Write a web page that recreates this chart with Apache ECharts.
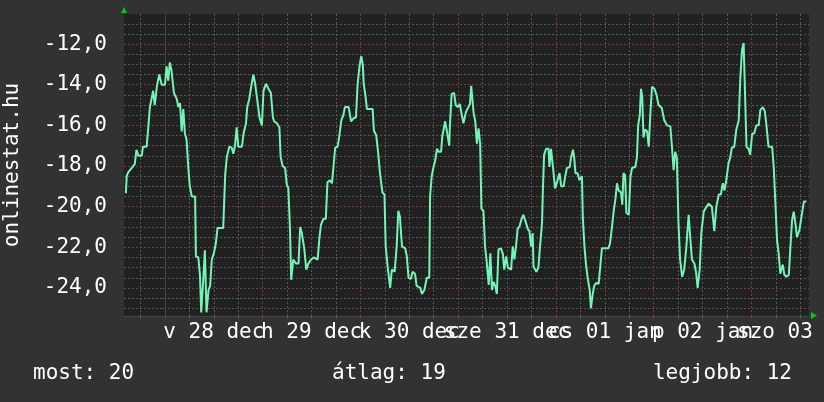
<!DOCTYPE html>
<html>
<head>
<meta charset="utf-8">
<script src="https://cdn.jsdelivr.net/npm/echarts@6/dist/echarts.min.js"></script>
<style>
html,body{margin:0;padding:0;background:#323232;}
#chart{width:824px;height:402px;}
</style>
</head>
<body>
<div id="chart"></div>
<script>
// hours relative to 28 Dec 00:00
const hours = [-9.6,-9.4,-9.0,-7.8,-7.4,-7.0,-6.5,-5.7,-5.4,-4.5,-4.1,-3.7,-2.9,-2.5,-2.0,-1.4,-0.8,0.0,0.4,0.8,1.2,1.6,2.2,2.9,3.3,3.7,4.1,4.5,4.9,5.3,5.7,6.1,6.6,7.4,7.6,8.2,8.6,8.9,9.4,9.8,10.2,10.7,11.1,11.5,12.0,12.5,12.9,14.3,14.8,15.2,15.8,16.4,16.8,17.2,17.6,18.0,18.9,19.3,19.9,20.2,20.7,21.3,21.7,22.1,22.7,23.2,23.8,24.2,24.8,25.4,26.0,26.5,26.8,27.5,28.1,28.4,28.9,29.5,29.9,30.3,30.7,31.0,31.5,32.2,32.8,
33.2,33.6,34.2,34.7,35.2,35.9,36.5,37.5,37.9,38.3,38.9,39.5,39.9,40.5,41.0,41.4,41.8,42.4,42.8,43.3,43.8,44.2,45.1,45.7,46.3,46.9,47.3,47.8,48.2,48.6,48.8,49.2,49.6,51.0,51.3,51.9,52.4,52.8,53.4,53.9,54.2,54.7,55.3,55.7,56.4,56.9,57.3,57.7,58.2,59.0,59.4,59.8,60.4,60.8,61.4,61.8,62.7,63.1,63.7,64.3,64.9,65.1,65.5,66.0,66.3,66.8,67.2,67.8,68.1,68.8,69.2,69.8,70.0,70.4,71.0,71.4,71.9,72.4,72.9,73.3,73.9,74.5,74.9,75.2,75.8,76.2,76.6,77.0,77.4,77.7,78.2,78.6,79.0,79.5,79.9,80.3,80.7,81.1,81.5,81.9,82.5,83.0,83.3,83.8,84.2,85.0,85.4,85.8,86.2,86.6,87.1,87.5,88.0,88.5,89.1,89.5,89.9,90.3,90.5,91.2,91.7,92.1,92.6,92.8,93.1,93.6,94.2,94.4,94.8,95.3,95.8,96.4,96.9,97.3,97.9,98.3,98.7,99.4,99.7,100.2,100.5,100.8,101.3,101.8,102.4,102.6,103.0,103.4,103.8,104.3,104.6,105.0,105.4,105.9,106.5,106.9,107.3,108.9,109.3,109.8,110.2,110.6,111.0,111.4,112.0,112.3,112.6,113.0,113.3,113.9,114.3,114.7,115.5,115.9,116.2,116.6,116.9,117.2,117.5,117.9,118.4,118.8,119.2,119.6,120.2,120.7,121.2,122.0,122.6,123.3,124.1,124.5,124.9,125.3,125.7,126.1,126.5,127.0,127.5,128.0,128.6,129.0,129.4,130.0,130.4,130.8,131.3,131.7,132.3,132.7,133.5,134.3,134.9,135.4,136.0,136.5,137.0,137.4,137.8,138.4,138.8,139.2,139.8,140.3,140.9,141.3,141.7,142.1,142.5,142.8,143.3,143.7,144.2,144.7,145.2,145.8,146.2,146.8,147.3,147.7,148.2,149.1,149.5,149.9,150.3,150.7,151.1,151.7,152.1,152.6,153.2,153.6,154.0,154.4,154.8,155.2,155.8,156.3,156.9,157.5];
const temps = [-19.34,-18.5,-18.3,-18.0,-17.9,-17.2,-17.5,-17.5,-17.05,-17.05,-16.1,-15.1,-14.3,-15.0,-14.1,-13.5,-14.0,-14.0,-13.1,-13.8,-12.9,-13.3,-14.4,-14.7,-15.1,-14.9,-16.3,-15.2,-16.4,-16.7,-18.0,-19.0,-19.5,-19.5,-22.45,-22.5,-23.4,-25.2,-23.6,-22.15,-25.2,-24.1,-23.9,-22.6,-22.3,-21.8,-21.05,-21.05,-18.4,-17.55,-17.05,-17.1,-17.4,-17.0,-16.1,-17.05,-17.05,-16.4,-15.9,-15.1,-14.7,-13.95,-13.5,-13.9,-14.8,-15.6,-16.0,-14.3,-13.95,-14.2,-14.4,-15.6,-15.8,-15.9,-16.1,-17.55,-18.0,-18.1,-18.9,-19.1,-21.1,-23.6,-22.6,-22.8,-22.8,
-21.0,-21.3,-22.05,-23.1,-22.8,-22.6,-22.5,-22.6,-21.6,-20.9,-20.6,-20.6,-18.8,-18.7,-18.85,-18.0,-17.1,-17.05,-16.55,-15.75,-15.5,-15.1,-15.1,-15.8,-15.65,-15.6,-14.0,-13.05,-12.6,-13.05,-13.95,-14.5,-15.2,-15.2,-16.25,-16.5,-17.45,-18.35,-19.3,-19.4,-21.95,-23.0,-24.0,-23.1,-23.2,-21.95,-20.2,-20.5,-21.95,-22.05,-22.45,-23.5,-23.55,-23.2,-23.3,-23.9,-24.0,-24.3,-24.1,-23.5,-23.5,-19.5,-18.5,-18.0,-17.8,-17.15,-17.3,-17.3,-16.55,-15.8,-16.25,-17.0,-15.9,-14.45,-14.4,-15.0,-15.1,-14.95,-15.5,-15.9,-15.35,-15.1,-14.95,-14.05,-15.4,-15.8,-16.9,-16.15,-16.9,-20.1,-20.2,-21.95,-22.7,-23.85,-22.3,-24.1,-23.7,-23.9,-24.3,-22.1,-22.05,-22.35,-23.1,-22.45,-23.0,-23.1,-21.95,-22.6,-21.95,-21.1,-20.95,-20.65,-20.4,-20.7,-21.1,-21.2,-21.95,-21.3,-22.95,-23.2,-23.0,-21.95,-20.8,-19.2,-17.45,-17.15,-17.15,-18.05,-17.15,-18.1,-19.1,-18.7,-18.35,-19.0,-19.0,-18.5,-18.1,-18.05,-17.6,-17.2,-17.6,-18.35,-18.35,-18.7,-18.5,-20.5,-21.95,-22.85,-23.5,-24.1,-25.0,-24.35,-23.9,-23.75,-23.8,-23.75,-22.05,-22.05,-21.8,-20.95,-20.2,-19.65,-18.85,-19.2,-19.3,-19.9,-18.35,-18.45,-20.3,-20.4,-18.55,-18.1,-18.05,-17.55,-16.0,-15.5,-14.2,-14.6,-16.6,-16.2,-16.3,-17.05,-15.4,-14.1,-14.2,-14.5,-15.0,-15.15,-15.75,-16.0,-16.05,-17.05,-18.2,-17.3,-17.6,-20.8,-22.6,-23.45,-23.1,-22.05,-20.4,-21.55,-22.6,-22.8,-23.2,-24.0,-23.1,-21.3,-20.25,-20.1,-19.85,-20.0,-21.2,-20.0,-19.4,-19.4,-18.85,-19.2,-18.75,-17.85,-17.6,-17.1,-17.05,-16.2,-15.75,-13.6,-12.3,-11.95,-11.95,-17.05,-17.15,-17.45,-16.4,-16.4,-16.0,-16.0,-15.25,-15.1,-15.3,-16.0,-17.05,-17.05,-18.1,-19.85,-21.65,-22.3,-23.3,-22.85,-23.35,-23.45,-23.35,-21.95,-20.65,-20.25,-20.8,-21.5,-21.15,-20.5,-19.75,-19.75];

const dayLabelHours = [12, 36, 60, 84, 108, 132, 156];
const dayLabels = ['v 28 dec', 'h 29 dec', 'k 30 dec', 'sze 31 dec', 'cs 01 jan', 'p 02 jan', 'szo 03 jan'];
const midnightHours = [0, 24, 48, 72, 96, 120, 144];
const yMajorTicks = [-24, -22, -20, -18, -16, -14, -12];
const legendTexts = ['most: 20', 'átlag: 19', 'legjobb: 12'];
const axisName = 'onlinestat.hu';

const X_MIN = -10.06, X_MAX = 158.15;
const Y_MIN = -25.38, Y_MAX = -10.52;

const minorHours = [];
for (let h = -6; h <= 156; h += 6) if (h % 24 !== 0) minorHours.push(h);
const yMinorTicks = [];
for (let v = -25; v <= -11; v += 0.5) if (v % 2 !== 0) yMinorTicks.push(v);
// split day labels into two alternating groups so neighbours within one axis never collide
const labelsA = dayLabelHours.filter((h, i) => i % 2 === 0);
const labelsB = dayLabelHours.filter((h, i) => i % 2 === 1);

const FONT = 'DejaVu Sans Mono';
const GRAY = '#585858';
const RED = '#7d3a3a';
const dayFmt = v => { const i = dayLabelHours.indexOf(Math.round(v)); return i >= 0 ? dayLabels[i] : ''; };
const dayLabelStyle = {color: '#ffffff', fontFamily: FONT, fontSize: 21, margin: 6,
  showMinLabel: true, showMaxLabel: true, hideOverlap: false, formatter: dayFmt};

const data = hours.map((h, i) => [h, temps[i]]);

const chart = echarts.init(document.getElementById('chart'), null, {renderer: 'canvas'});
chart.setOption({
  backgroundColor: '#323232',
  animation: false,
  grid: {left: 124, right: 15, top: 14, bottom: 86, show: true, backgroundColor: '#212121', borderWidth: 0,
         containLabel: false, outerBoundsMode: 'none'},
  xAxis: [
    {
      type: 'value', min: X_MIN, max: X_MAX, position: 'bottom',
      axisLine: {show: true, lineStyle: {color: '#444', width: 1}},
      axisTick: {show: true, customValues: minorHours, length: 3, lineStyle: {color: GRAY}},
      splitLine: {show: true, showMinLine: true, showMaxLine: true, lineStyle: {color: GRAY, type: [2, 2], width: 1}},
      axisLabel: Object.assign({show: true, customValues: labelsA}, dayLabelStyle)
    },
    {
      type: 'value', min: X_MIN, max: X_MAX, position: 'bottom',
      axisLine: {show: false},
      axisTick: {show: true, customValues: midnightHours, length: 3, lineStyle: {color: RED}},
      splitLine: {show: true, showMinLine: true, showMaxLine: true, lineStyle: {color: RED, type: [2, 2], width: 1}},
      axisLabel: {show: true, customValues: midnightHours, showMinLabel: true, showMaxLabel: true, formatter: () => ''}
    },
    {
      type: 'value', min: X_MIN, max: X_MAX, position: 'bottom',
      axisLine: {show: false}, axisTick: {show: false}, splitLine: {show: false},
      axisLabel: Object.assign({show: true, customValues: labelsB}, dayLabelStyle)
    }
  ],
  yAxis: [
    {
      type: 'value', min: Y_MIN, max: Y_MAX, position: 'left',
      axisLine: {show: true, lineStyle: {color: '#444', width: 1}},
      axisTick: {show: true, customValues: yMinorTicks, length: 2, lineStyle: {color: GRAY}},
      splitLine: {show: true, showMinLine: true, showMaxLine: true, lineStyle: {color: GRAY, type: [2, 2], width: 1}},
      axisLabel: {show: false}
    },
    {
      type: 'value', min: Y_MIN, max: Y_MAX, position: 'left',
      name: axisName, nameLocation: 'middle', nameGap: 101, nameRotate: 90,
      nameTextStyle: {color: '#ffffff', fontFamily: FONT, fontSize: 21},
      axisLine: {show: false},
      axisTick: {show: true, customValues: yMajorTicks, length: 2, lineStyle: {color: RED}},
      splitLine: {show: true, showMinLine: true, showMaxLine: true, lineStyle: {color: RED, type: [2, 2], width: 1}},
      axisLabel: {
        show: true, customValues: yMajorTicks, margin: 17,
        showMinLabel: true, showMaxLabel: true,
        color: '#ffffff', fontFamily: FONT, fontSize: 21,
        formatter: v => v.toFixed(1).replace('.', ',')
      }
    }
  ],
  series: [{
    type: 'line', xAxisIndex: 0, yAxisIndex: 0, data: data,
    showSymbol: false, symbol: 'none',
    lineStyle: {color: '#74f5b8', width: 2},
    clip: true, z: 5
  }],
  graphic: [
    {type: 'text', left: 33, top: 363, style: {text: legendTexts[0], fill: '#fff', font: '21px "DejaVu Sans Mono"'}},
    {type: 'text', left: 332, top: 363, style: {text: legendTexts[1], fill: '#fff', font: '21px "DejaVu Sans Mono"'}},
    {type: 'text', right: 32, top: 363, style: {text: legendTexts[2], fill: '#fff', font: '21px "DejaVu Sans Mono"'}},
    {type: 'polygon', shape: {points: [[121, 13], [127, 13], [124, 7]]}, style: {fill: '#00d000'}},
    {type: 'polygon', shape: {points: [[811, 312], [811, 319], [817, 315.5]]}, style: {fill: '#00d000'}}
  ]
});
</script>
</body>
</html>
